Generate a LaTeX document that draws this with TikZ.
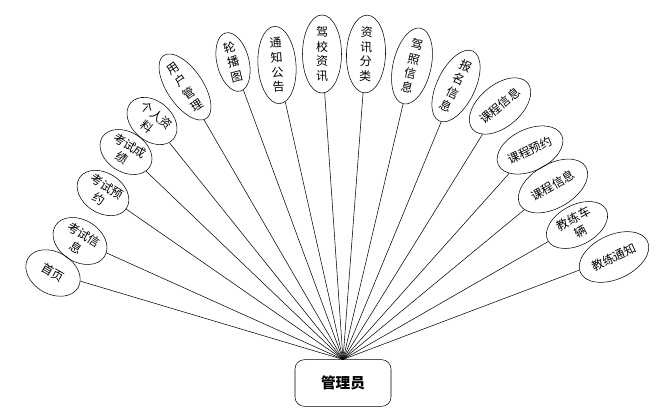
\documentclass[tikz,border=0pt]{standalone}
\usepackage{fontspec}
\usetikzlibrary{shapes.geometric}
\newfontfamily\cjk{Noto Sans CJK SC}
\begin{document}
\begin{tikzpicture}[x=0.75pt,y=-0.75pt,
  item/.style={draw, ellipse, inner sep=0pt, align=center, font=\cjk\fontsize{9}{11}\selectfont},
  admin/.style={draw, rounded corners=7pt, minimum width=72pt, minimum height=35pt, font=\cjk\bfseries\fontsize{11}{13}\selectfont}]
\useasboundingbox (0,0) rectangle (664,419);

\node[admin] (root) at (343,383) {管理员};

\node[item, rotate=-30, minimum width=43.5pt, minimum height=31.5pt] (shouye) at (53,273) {首页};
\node[item, rotate=-32, minimum width=43.5pt, minimum height=31.5pt] (ksxx) at (80,241) {考试信\\息};
\node[item, rotate=-33, minimum width=42pt, minimum height=30pt] (ksyy) at (103,193) {考试预\\约};
\node[item, rotate=-32, minimum width=42pt, minimum height=30pt] (kscj) at (126,152) {考试成\\绩};
\node[item, rotate=-40, minimum width=42pt, minimum height=30pt] (grzl) at (152,121) {个人资\\料};
\node[item, rotate=34, minimum width=27pt, minimum height=46.5pt] (yhgl) at (185,87) {用\\户\\管\\理};
\node[item, rotate=14, minimum width=24pt, minimum height=45pt] (lbt) at (233,62) {轮\\播\\图};
\node[item, rotate=4, minimum width=28.5pt, minimum height=52.5pt] (tzgg) at (277,65) {通\\知\\公\\告};
\node[item, minimum width=29.25pt, minimum height=48.75pt] (jxzx) at (322,54) {驾\\校\\资\\讯};
\node[item, rotate=-2, minimum width=29.25pt, minimum height=48.75pt] (zxfl) at (366,54) {资\\讯\\分\\类};
\node[item, rotate=-13, minimum width=28.5pt, minimum height=46.5pt] (jzxx) at (412,66) {驾\\照\\信\\息};
\node[item, rotate=-26, minimum width=28.5pt, minimum height=46.5pt] (bmxx) at (456,86) {报\\名\\信\\息};
\node[item, rotate=40, minimum width=54pt, minimum height=31.5pt] (kcxx) at (500,106) {课程信息};
\node[item, rotate=25, minimum width=52.5pt, minimum height=31.5pt] (kcyy) at (530,150) {课程预约};
\node[item, rotate=30, minimum width=57pt, minimum height=33pt] (kcxxb) at (553,186) {课程信息};
\node[item, rotate=28, minimum width=49.5pt, minimum height=30pt] (jlcl) at (577,225) {教练车\\辆};
\node[item, rotate=25, minimum width=55.5pt, minimum height=33pt] (jltz) at (614,257) {教练通知};

\foreach \n in {shouye,ksxx,ksyy,kscj,grzl,yhgl,lbt,tzgg,jxzx,zxfl,jzxx,bmxx,kcxx,kcyy,kcxxb,jlcl,jltz}
  \draw (\n) -- (root.north);
\end{tikzpicture}
\end{document}
